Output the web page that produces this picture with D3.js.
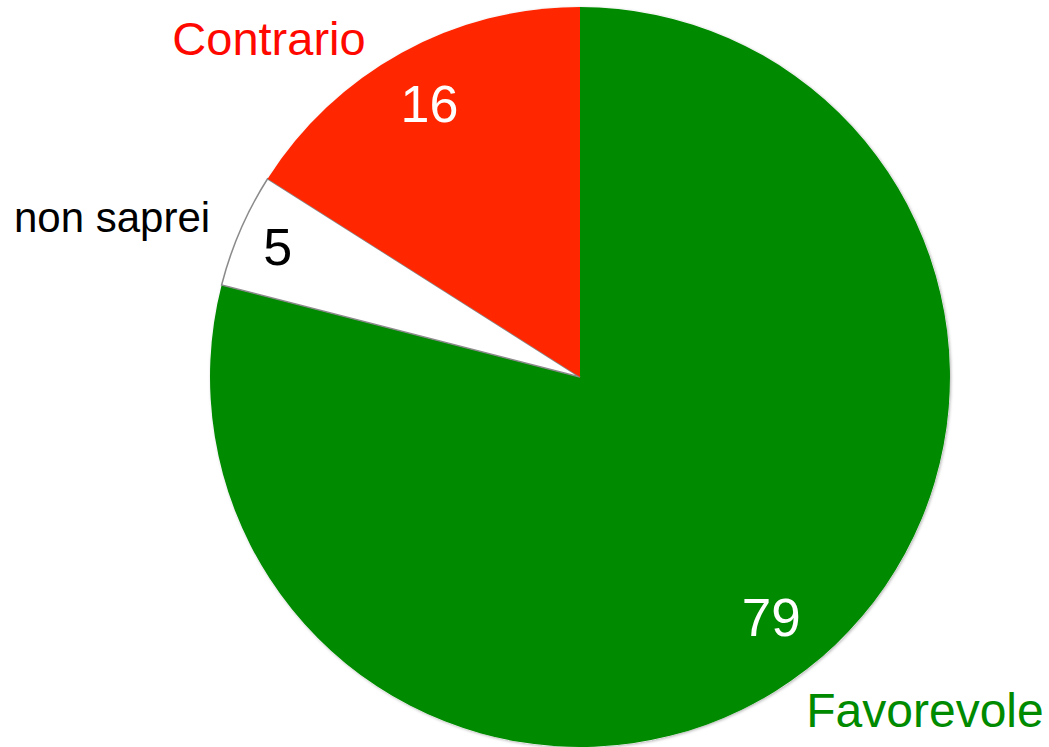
<!DOCTYPE html>
<html>
<head>
<meta charset="utf-8">
<script src="https://cdn.jsdelivr.net/npm/d3@7"></script>
<style>
  html, body { margin: 0; padding: 0; background: #fff; }
  svg { display: block; font-family: "Liberation Sans", Arial, sans-serif; }
</style>
</head>
<body>
<div id="chart"></div>
<script>
// data
var categories = ["Favorevole", "non saprei", "Contrario"];
var values = [79, 5, 16];
var sliceColors = ["#008a00", "#ffffff", "#ff2600"];
var nameColors = ["#008a00", "#000000", "#ff0800"];
var valueColors = ["#ffffff", "#000000", "#ffffff"];

var width = 1049, height = 747;
var cx = 580, cy = 377, radius = 370;

var svg = d3.select("#chart").append("svg")
    .attr("width", width)
    .attr("height", height);

var defs = svg.append("defs");
var shadow = defs.append("filter").attr("id", "shadow")
    .attr("x", "-5%").attr("y", "-5%").attr("width", "110%").attr("height", "110%");
shadow.append("feDropShadow")
    .attr("dx", 1).attr("dy", 1).attr("stdDeviation", 1.5)
    .attr("flood-color", "#000").attr("flood-opacity", 0.3);

var slices = categories.map(function(c, i) { return { name: c, value: values[i], i: i }; });

var pie = d3.pie().sort(null).value(function(d) { return d.value; });
var arcs = pie(slices);

var arc = d3.arc().innerRadius(0).outerRadius(radius);

var g = svg.append("g").attr("transform", "translate(" + cx + "," + cy + ")");

// base disc with soft shadow
g.append("circle")
    .attr("r", radius)
    .attr("fill", "#fff")
    .attr("filter", "url(#shadow)");

g.selectAll(".slice")
    .data(arcs)
    .enter().append("path")
    .attr("class", "slice")
    .attr("d", arc)
    .attr("fill", function(d) { return sliceColors[d.data.i]; })
    .attr("stroke", function(d) { return d.data.i == 1 ? "#8a8a8a" : "none"; })
    .attr("stroke-width", 1.5);

// value labels inside the slices, near the mid angle (angle shift in rad, radius factor)
var valueShift = [-0.012, 0, 0];
var valueR = [0.83, 0.89, 0.845];
var valueSize = [53, 52, 52];
g.selectAll(".val")
    .data(arcs)
    .enter().append("text")
    .attr("class", "val")
    .attr("text-anchor", "middle")
    .attr("transform", function(d) {
      var a = (d.startAngle + d.endAngle) / 2 + valueShift[d.data.i];
      var r = radius * valueR[d.data.i];
      return "translate(" + (Math.sin(a) * r) + "," + (-Math.cos(a) * r) + ")";
    })
    .attr("dy", "0.36em")
    .style("font-size", function(d) { return valueSize[d.data.i] + "px"; })
    .attr("fill", function(d) { return valueColors[d.data.i]; })
    .text(function(d) { return d.data.value; });

// category labels outside
var namePos = [
  { x: 925, y: 727, anchor: "middle", size: 48 },
  { x: 14, y: 232, anchor: "start", size: 42 },
  { x: 269, y: 55, anchor: "middle", size: 47 }
];
svg.selectAll(".name")
    .data(slices)
    .enter().append("text")
    .attr("class", "name")
    .attr("x", function(d) { return namePos[d.i].x; })
    .attr("y", function(d) { return namePos[d.i].y; })
    .attr("text-anchor", function(d) { return namePos[d.i].anchor; })
    .style("font-size", function(d) { return namePos[d.i].size + "px"; })
    .attr("fill", function(d) { return nameColors[d.i]; })
    .text(function(d) { return d.name; });
</script>
</body>
</html>
